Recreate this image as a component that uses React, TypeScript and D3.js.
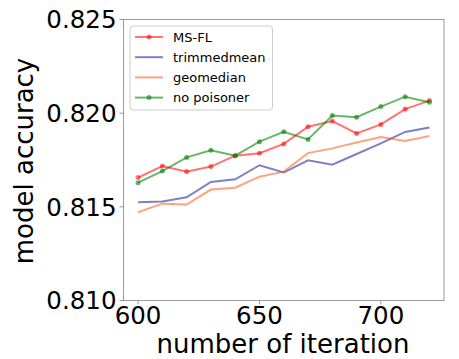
import React from "react";
import * as d3 from "d3";

const iterations = [600, 610, 620, 630, 640, 650, 660, 670, 680, 690, 700, 710, 720];
const msfl = [0.81656, 0.81718, 0.81688, 0.81715, 0.81773, 0.81786, 0.81836, 0.81928, 0.81958, 0.81892, 0.8194, 0.82022, 0.82067];
const trimmedmean = [0.81524, 0.81528, 0.81551, 0.81633, 0.81647, 0.81722, 0.81683, 0.81748, 0.81725, 0.81782, 0.81839, 0.819, 0.81923];
const geomedian = [0.81471, 0.81517, 0.81512, 0.81592, 0.81602, 0.81661, 0.81688, 0.81787, 0.81812, 0.81843, 0.81873, 0.81852, 0.81878];
const noPoisoner = [0.81629, 0.81691, 0.81764, 0.81802, 0.81773, 0.81848, 0.81901, 0.8186, 0.81987, 0.81978, 0.82035, 0.82088, 0.82058];
const xTicks = [600, 650, 700];
const yTicks = [0.81, 0.815, 0.82, 0.825];
const seriesNames = ["MS-FL", "trimmedmean", "geomedian", "no poisoner"];

const W = 459, H = 359;
const L = 123.5, R = 444, T = 19.5, B = 300.5;

export default function App() {
  const x = d3.scaleLinear().domain([594, 726]).range([L, R]);
  const y = d3.scaleLinear().domain([0.81, 0.825]).range([B, T]);
  const line = d3.line<number>().x((_, i) => x(iterations[i])).y((d) => y(d));
  const series = [
    { name: seriesNames[0], data: msfl, color: "rgba(255,0,0,0.55)", marker: true },
    { name: seriesNames[1], data: trimmedmean, color: "rgba(0,0,139,0.5)", marker: false },
    { name: seriesNames[2], data: geomedian, color: "rgba(255,69,0,0.5)", marker: false },
    { name: seriesNames[3], data: noPoisoner, color: "rgba(0,128,0,0.58)", marker: true },
  ];
  const font = "'DejaVu Sans', sans-serif";
  return (
    <svg width={W} height={H} style={{ position: "absolute", left: 0, top: 0, background: "#fff" }} fontFamily={font}>
      <rect x={0} y={0} width={W} height={H} fill="#fff" />
      {series.map((s) => (
        <g key={s.name}>
          <path d={line(s.data) || ""} fill="none" stroke={s.color} strokeWidth={2} />
          {s.marker && s.data.map((d, i) => (
            <circle key={i} cx={x(iterations[i])} cy={y(d)} r={2.5} fill={s.color} />
          ))}
        </g>
      ))}
      <rect x={L} y={T} width={R - L} height={B - T} fill="none" stroke="#999" strokeWidth={1} />
      {yTicks.map((t) => (
        <g key={t}>
          <line x1={L - 4} x2={L} y1={y(t)} y2={y(t)} stroke="#999" />
          <text x={L - 7} y={y(t)} dy="0.36em" textAnchor="end" fontSize={24.5} fill="#000">{d3.format(".3f")(t)}</text>
        </g>
      ))}
      {xTicks.map((t) => (
        <g key={t}>
          <line x1={x(t)} x2={x(t)} y1={B} y2={B + 4} stroke="#999" />
          <text x={x(t)} y={B + 23} textAnchor="middle" fontSize={24.5} fill="#000">{t}</text>
        </g>
      ))}
      <text x={283} y={353} textAnchor="middle" fontSize={26} fill="#000">number of iteration</text>
      <text transform={`translate(33,${(T + B) / 2 + 1}) rotate(-90)`} textAnchor="middle" fontSize={26} fill="#000">model accuracy</text>
      <rect x={130} y={26} width={142.5} height={84} rx={3} fill="rgba(255,255,255,0.8)" stroke="#ccc" strokeWidth={1} />
      {series.map((s, i) => {
        const cy = 37 + i * 20.2;
        return (
          <g key={s.name}>
            <line x1={135} x2={163} y1={cy} y2={cy} stroke={s.color} strokeWidth={2} />
            {s.marker && <circle cx={149} cy={cy} r={2.5} fill={s.color} />}
            <text x={173} y={cy} dy="0.36em" fontSize={13} fill="#000">{s.name}</text>
          </g>
        );
      })}
    </svg>
  );
}
